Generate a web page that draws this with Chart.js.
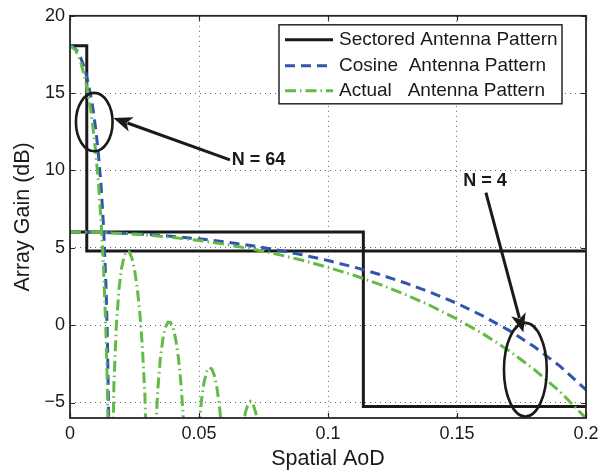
<!DOCTYPE html>
<html>
<head>
<meta charset="utf-8">
<script src="https://cdn.jsdelivr.net/npm/chart.js@4.4.0/dist/chart.umd.min.js"></script>
<style>
  html, body { margin: 0; padding: 0; background: #ffffff; }
  #wrap { width: 614px; height: 472px; }
</style>
</head>
<body>
<div id="wrap"><canvas id="c" width="614" height="472"></canvas></div>
<script>
// ---------- data ----------
const xTicks = [0, 0.05, 0.1, 0.15, 0.2];
const xTickLabels = ["0", "0.05", "0.1", "0.15", "0.2"];
const yTicks = [-5, 0, 5, 10, 15, 20];
const yTickLabels = ["\u22125", "0", "5", "10", "15", "20"];

const legendLabels = ["Sectored Antenna Pattern", "Cosine  Antenna Pattern", "Actual   Antenna Pattern"];

// N = 64
const sectored64X = [0, 0.0065, 0.0065, 0.2];
const sectored64Y = [18.06, 18.06, 4.8, 4.8];
const cosine64X = [0, 0.001, 0.002, 0.003, 0.004, 0.005, 0.006, 0.007, 0.008, 0.009, 0.010, 0.011, 0.012, 0.013, 0.014, 0.0145, 0.015, 0.0153, 0.0156];
const cosine64Y = [18.06, 18.02, 17.88, 17.66, 17.34, 16.91, 16.37, 15.70, 14.88, 13.88, 12.64, 11.09, 9.10, 6.39, 2.28, -0.89, -5.99, -11.6, -40];
const actual64X = [0, 0.002, 0.004, 0.006, 0.008, 0.009, 0.010, 0.011, 0.012, 0.013, 0.014, 0.0145, 0.015, 0.0156,
  0.016, 0.017, 0.018, 0.019, 0.020, 0.021, 0.022, 0.023, 0.024, 0.025, 0.026, 0.027, 0.028, 0.029, 0.030, 0.0312,
  0.032, 0.033, 0.034, 0.035, 0.036, 0.037, 0.038, 0.039, 0.040, 0.041, 0.042, 0.043, 0.044, 0.045, 0.0469,
  0.048, 0.049, 0.050, 0.051, 0.052, 0.053, 0.054, 0.055, 0.056, 0.057, 0.058, 0.059, 0.060, 0.0625,
  0.064, 0.065, 0.066, 0.067, 0.068, 0.069, 0.070, 0.071, 0.072, 0.073, 0.074, 0.0781];
const actual64Y = [18.06, 17.82, 17.10, 15.84, 13.93, 12.66, 11.12, 9.25, 6.88, 3.74, -0.76, -4.24, -9.57, -40,
  -14.5, -3.88, 0.10, 2.36, 3.70, 4.45, 4.79, 4.73, 4.33, 3.60, 2.49, 0.92, -1.26, -4.42, -9.59, -40,
  -14.6, -7.63, -4.23, -2.18, -0.89, -0.14, 0.20, 0.17, -0.20, -0.94, -2.08, -3.74, -6.13, -9.76, -40,
  -14.6, -9.46, -6.60, -4.81, -3.66, -3.00, -2.74, -2.83, -3.28, -4.10, -5.36, -7.21, -9.92, -40,
  -14.7, -10.6, -8.18, -6.62, -5.63, -5.09, -4.93, -5.12, -5.66, -6.60, -8.02, -40];

// N = 4
const sectored4X = [0, 0.1137, 0.1137, 0.2];
const sectored4Y = [6.02, 6.02, -5.25, -5.25];
const aod4X = [0, 0.01, 0.02, 0.03, 0.04, 0.05, 0.06, 0.07, 0.08, 0.09, 0.10, 0.11, 0.12, 0.13, 0.14, 0.15, 0.16, 0.17, 0.18, 0.19, 0.20];
const cosine4Y = [6.02, 6.00, 5.95, 5.87, 5.74, 5.58, 5.39, 5.15, 4.87, 4.55, 4.18, 3.76, 3.28, 2.73, 2.11, 1.41, 0.60, -0.32, -1.40, -2.66, -4.18];
const actual4Y = [6.02, 6.00, 5.93, 5.83, 5.67, 5.48, 5.23, 4.94, 4.60, 4.20, 3.74, 3.23, 2.64, 1.98, 1.24, 0.40, -0.55, -1.63, -2.87, -4.31, -6.02];

// annotations (data coordinates)
const annLabels = ["N = 64", "N = 4"];
const annTextPos = [[0.0627, 10.68], [0.1524, 9.31]];
const annEllipses = [[0.0094, 13.13, 0.0071, 1.885], [0.1765, -2.88, 0.0083, 3.03]];
const annArrows = [[0.0620, 10.69, 0.0168, 13.40], [0.1612, 8.57, 0.1757, -0.48]];

// ---------- styles ----------
const FONT = "'Liberation Sans', Arial, Helvetica, sans-serif";
const C_BLACK = '#1a1a1a';
const C_BLUE = '#2f55ad';
const C_GREEN = '#62bb46';
const DASH_COS = [10, 6];
const DASH_ACT = [11, 4, 1.5, 4];

function pts(xs, ys) { return xs.map((x, i) => ({ x: x, y: ys[i] })); }

function ds(label, xs, ys, color, dash, order) {
  return {
    label: label, data: pts(xs, ys), borderColor: color, backgroundColor: color,
    borderWidth: 3, borderDash: dash, pointRadius: 0, tension: 0, fill: false,
    showLine: true, clip: 0, order: order, borderJoinStyle: 'miter', borderCapStyle: 'butt'
  };
}

const datasets = [
  ds(legendLabels[0], sectored64X, sectored64Y, C_BLACK, [], 3),
  ds(legendLabels[0], sectored4X, sectored4Y, C_BLACK, [], 3),
  ds(legendLabels[1], cosine64X, cosine64Y, C_BLUE, DASH_COS, 2),
  ds(legendLabels[1], aod4X, cosine4Y, C_BLUE, DASH_COS, 2),
  ds(legendLabels[2], actual64X, actual64Y, C_GREEN, DASH_ACT, 1),
  ds(legendLabels[2], aod4X, actual4Y, C_GREEN, DASH_ACT, 1)
];

// ---------- plugins ----------
const annotationPlugin = {
  id: 'annotations',
  afterDatasetsDraw(chart) {
    const { ctx, scales: { x, y } } = chart;
    ctx.save();
    ctx.strokeStyle = C_BLACK; ctx.fillStyle = C_BLACK;
    ctx.lineWidth = 2.6;
    annEllipses.forEach(e => {
      const cx = x.getPixelForValue(e[0]), cy = y.getPixelForValue(e[1]);
      const rx = Math.abs(x.getPixelForValue(e[0] + e[2]) - cx);
      const ry = Math.abs(y.getPixelForValue(e[1] + e[3]) - cy);
      ctx.beginPath(); ctx.ellipse(cx, cy, rx, ry, 0, 0, Math.PI * 2); ctx.stroke();
    });
    annArrows.forEach(a => {
      const x0 = x.getPixelForValue(a[0]), y0 = y.getPixelForValue(a[1]);
      const x1 = x.getPixelForValue(a[2]), y1 = y.getPixelForValue(a[3]);
      const ang = Math.atan2(y1 - y0, x1 - x0);
      const hl = 19, hw = 7.5;
      const bx = x1 - hl * Math.cos(ang), by = y1 - hl * Math.sin(ang);
      ctx.lineWidth = 3;
      ctx.beginPath(); ctx.moveTo(x0, y0); ctx.lineTo(bx + 4 * Math.cos(ang), by + 4 * Math.sin(ang)); ctx.stroke();
      ctx.beginPath();
      ctx.moveTo(x1, y1);
      ctx.lineTo(bx + hw * Math.sin(ang), by - hw * Math.cos(ang));
      ctx.lineTo(bx + 5 * Math.cos(ang), by + 5 * Math.sin(ang));
      ctx.lineTo(bx - hw * Math.sin(ang), by + hw * Math.cos(ang));
      ctx.closePath(); ctx.fill();
    });
    ctx.font = 'bold 18px ' + FONT;
    ctx.textAlign = 'left'; ctx.textBaseline = 'middle';
    annLabels.forEach((t, i) => {
      ctx.fillText(t, x.getPixelForValue(annTextPos[i][0]), y.getPixelForValue(annTextPos[i][1]));
    });
    ctx.restore();
  }
};

const legendPlugin = {
  id: 'customLegend',
  afterDatasetsDraw(chart) {
    const { ctx, chartArea: a } = chart;
    const bw = 283, bh = 79;
    const bx = a.right - 307, by = a.top + 9;
    ctx.save();
    ctx.fillStyle = '#ffffff';
    ctx.fillRect(bx, by, bw, bh);
    ctx.strokeStyle = '#262626'; ctx.lineWidth = 1.5;
    ctx.strokeRect(bx, by, bw, bh);
    const rows = [15, 41, 66];
    const styles = [[C_BLACK, []], [C_BLUE, DASH_COS], [C_GREEN, DASH_ACT]];
    ctx.font = '19px ' + FONT;
    ctx.textBaseline = 'middle'; ctx.textAlign = 'left';
    legendLabels.forEach((t, i) => {
      const yy = by + rows[i];
      ctx.strokeStyle = styles[i][0]; ctx.lineWidth = 3; ctx.setLineDash(styles[i][1]);
      ctx.beginPath(); ctx.moveTo(bx + 6, yy); ctx.lineTo(bx + 54, yy); ctx.stroke();
      ctx.setLineDash([]);
      ctx.fillStyle = '#1a1a1a';
      ctx.fillText(t, bx + 60, yy);
    });
    ctx.restore();
  }
};

const boxPlugin = {
  id: 'matlabBox',
  afterDraw(chart) {
    const { ctx, chartArea: a, scales: { x, y } } = chart;
    ctx.save();
    ctx.strokeStyle = '#262626'; ctx.lineWidth = 1.2;
    ctx.beginPath();
    xTicks.forEach(v => {
      const p = Math.round(x.getPixelForValue(v)) + 0.5;
      ctx.moveTo(p, a.bottom); ctx.lineTo(p, a.bottom - 5);
      ctx.moveTo(p, a.top); ctx.lineTo(p, a.top + 5);
    });
    yTicks.forEach(v => {
      const p = Math.round(y.getPixelForValue(v)) + 0.5;
      ctx.moveTo(a.left, p); ctx.lineTo(a.left + 5, p);
      ctx.moveTo(a.right, p); ctx.lineTo(a.right - 5, p);
    });
    ctx.stroke();
    ctx.lineWidth = 1.8;
    ctx.strokeRect(a.left, a.top, a.right - a.left, a.bottom - a.top);
    ctx.restore();
  }
};

// ---------- chart ----------
new Chart(document.getElementById('c'), {
  type: 'line',
  data: { datasets: datasets },
  options: {
    responsive: false,
    animation: false,
    events: [],
    layout: { padding: { top: 11, right: 28, left: 0, bottom: 0 } },
    plugins: { legend: { display: false }, tooltip: { enabled: false } },
    scales: {
      x: {
        type: 'linear', min: 0, max: 0.2,
        afterBuildTicks: s => { s.ticks = xTicks.map(v => ({ value: v })); },
        afterFit: s => { s.height = 54; },
        ticks: {
          autoSkip: false, maxRotation: 0, padding: 5, color: '#1a1a1a',
          font: { family: FONT, size: 18 },
          callback: (v, i) => xTickLabels[i]
        },
        grid: { color: 'rgba(0,0,0,0.6)', lineWidth: 1, drawTicks: false },
        border: { display: false, dash: [1, 4] },
        title: { display: true, text: 'Spatial AoD', color: '#1a1a1a', font: { family: FONT, size: 21.5 }, padding: { top: 0, bottom: 0.5 } }
      },
      y: {
        type: 'linear', min: -6, max: 20,
        afterBuildTicks: s => { s.ticks = yTicks.map(v => ({ value: v })); },
        afterFit: s => { s.width = 70; },
        ticks: {
          autoSkip: false, padding: 5, color: '#1a1a1a',
          font: { family: FONT, size: 18 },
          callback: (v, i) => yTickLabels[i]
        },
        grid: { color: 'rgba(0,0,0,0.6)', lineWidth: 1, drawTicks: false },
        border: { display: false, dash: [1, 4] },
        title: { display: true, text: 'Array Gain (dB)', color: '#1a1a1a', font: { family: FONT, size: 21.5 }, padding: { top: 10, bottom: 0 } }
      }
    }
  },
  plugins: [annotationPlugin, legendPlugin, boxPlugin]
});
</script>
</body>
</html>
